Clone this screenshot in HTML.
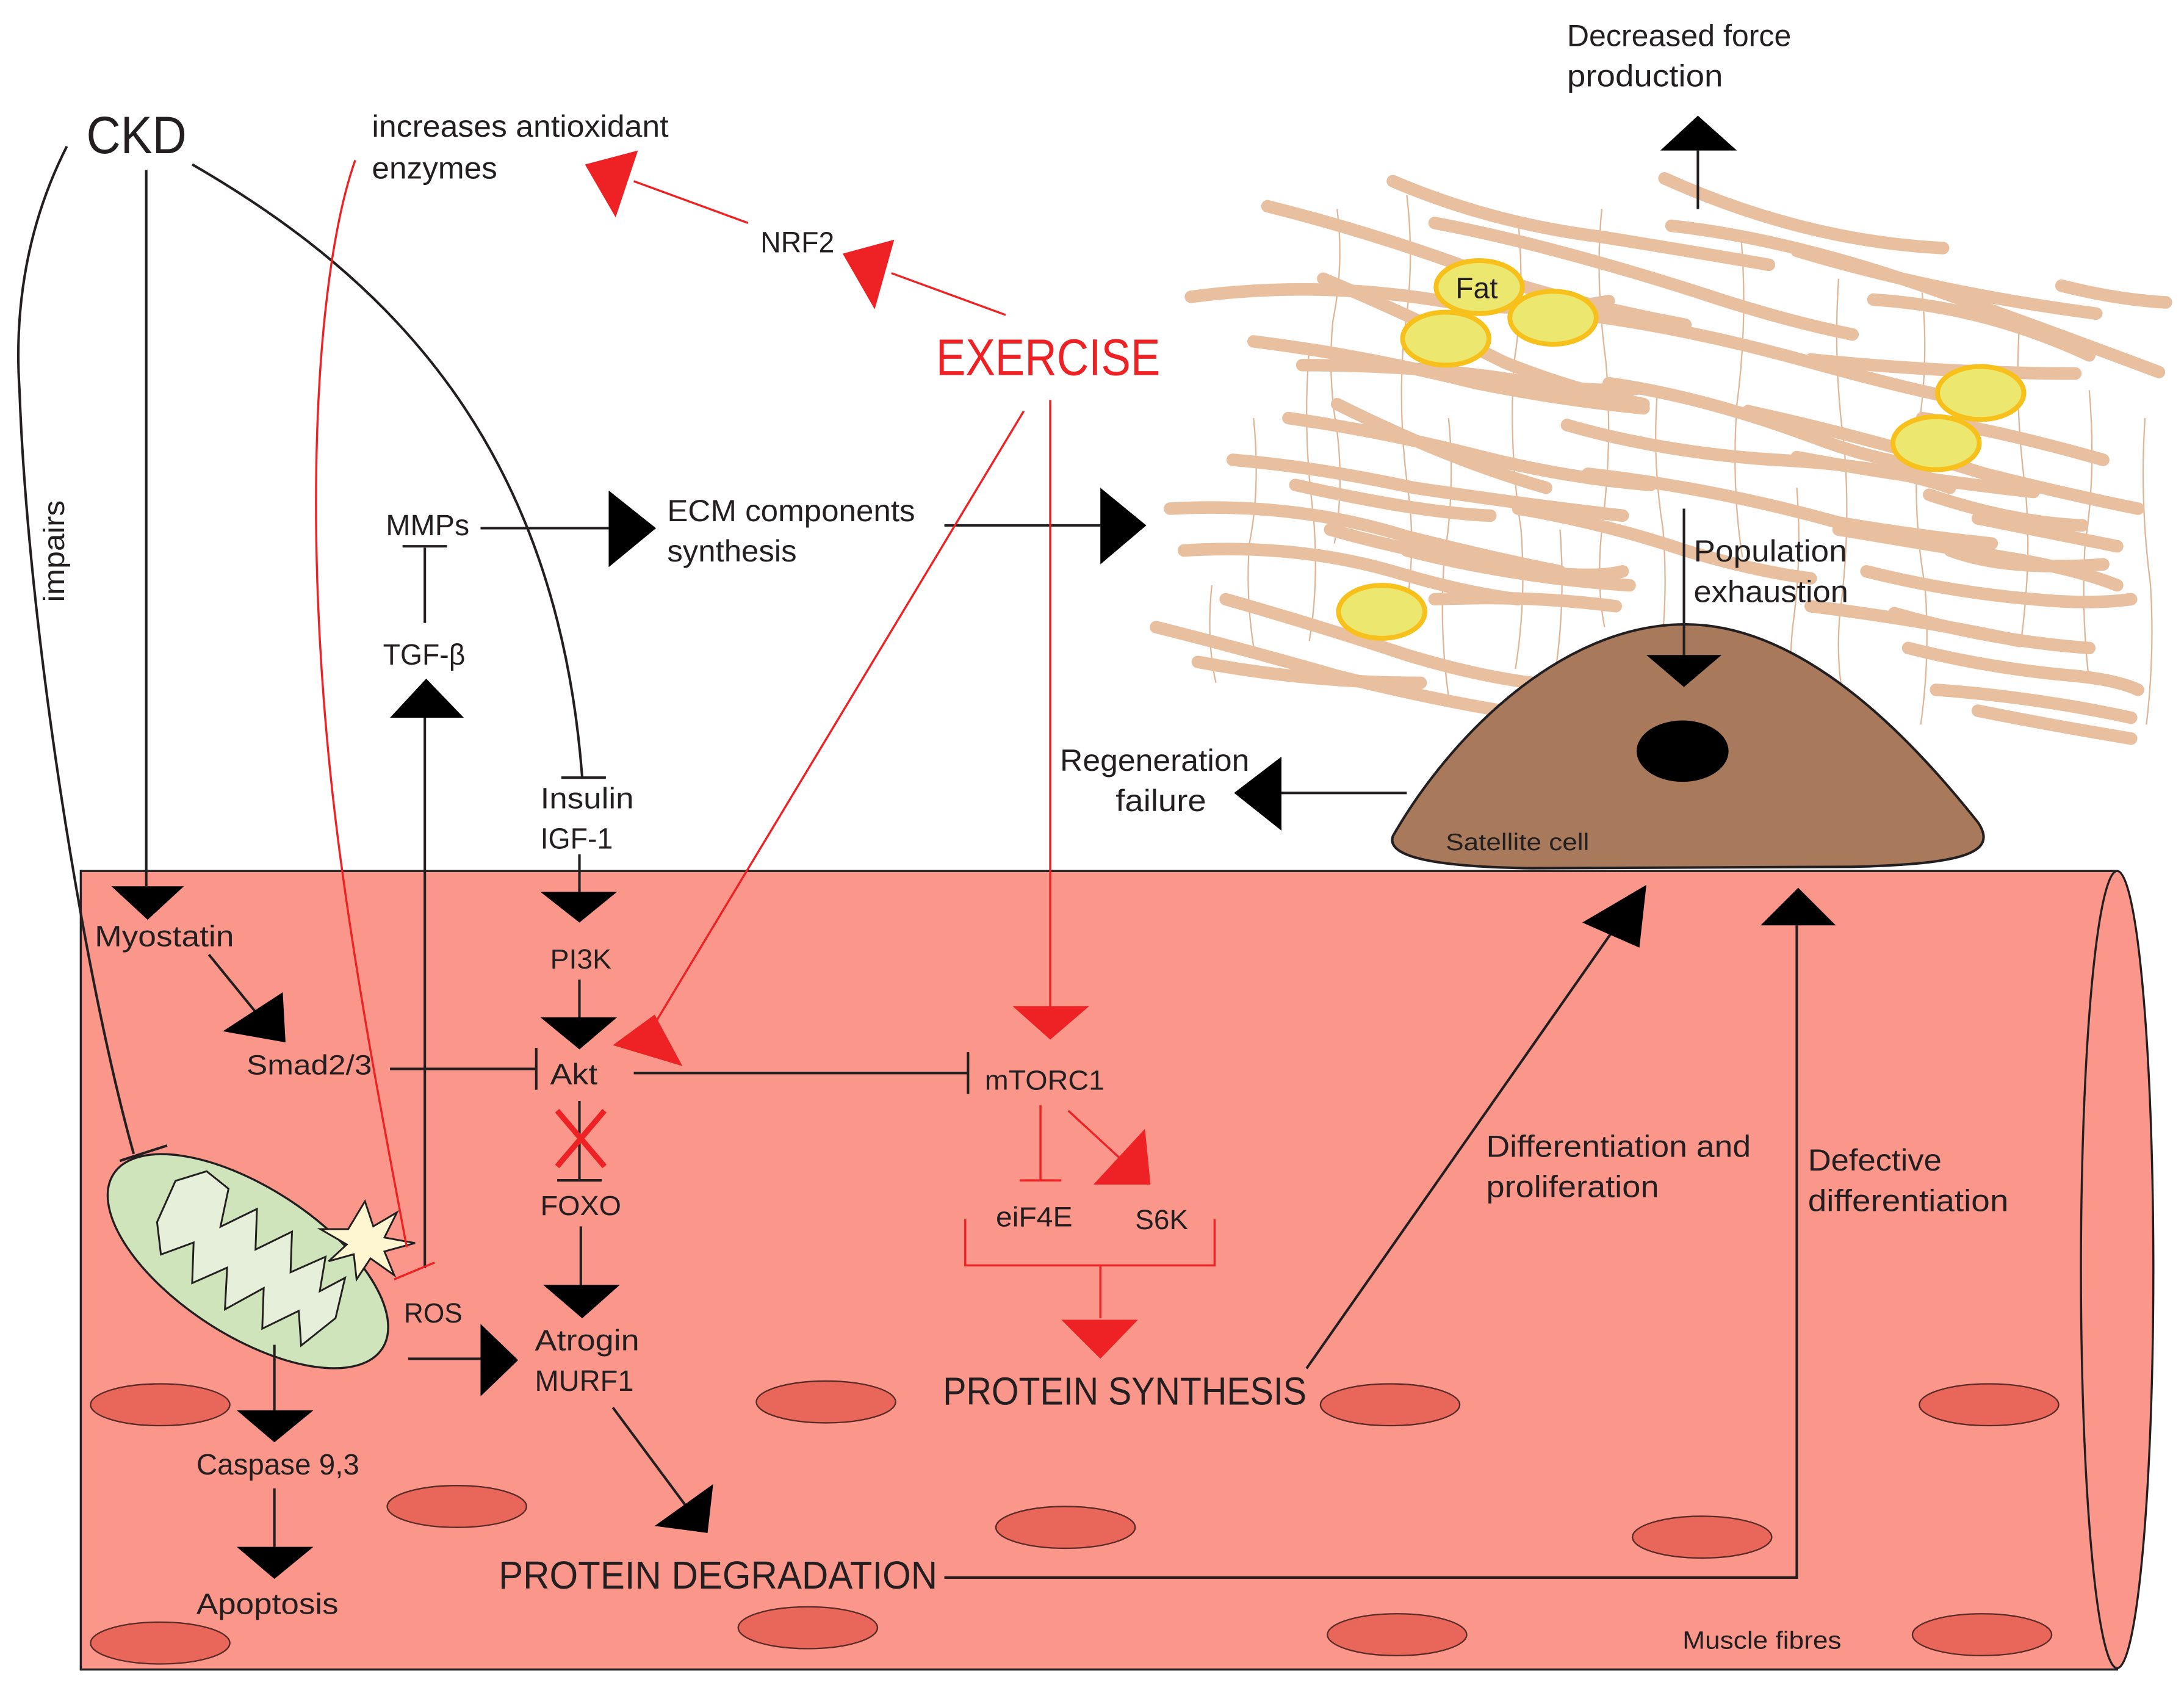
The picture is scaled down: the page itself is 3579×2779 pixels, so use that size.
<!DOCTYPE html>
<html><head><meta charset="utf-8"><style>
html,body{margin:0;padding:0;background:#fff}
svg{display:block}
text{font-family:"Liberation Sans",sans-serif;fill:#231f20}
</style></head><body>
<svg width="3579" height="2779" viewBox="0 0 1568 1217" preserveAspectRatio="none" xmlns="http://www.w3.org/2000/svg">
<rect x="58" y="625" width="1462" height="573" fill="#fa968a" stroke="#231f20" stroke-width="1.5"/>
<ellipse cx="1520" cy="911" rx="26" ry="286" fill="#fa968a" stroke="#231f20" stroke-width="1.5"/>
<g fill="#e8665a" stroke="#5a2a26" stroke-width="1">
<ellipse cx="115" cy="1008" rx="50" ry="15"/><ellipse cx="328" cy="1081" rx="50" ry="15"/>
<ellipse cx="593" cy="1006" rx="50" ry="15"/><ellipse cx="765" cy="1096" rx="50" ry="15"/>
<ellipse cx="998" cy="1008" rx="50" ry="15"/><ellipse cx="1222" cy="1103" rx="50" ry="15"/>
<ellipse cx="1428" cy="1008" rx="50" ry="15"/><ellipse cx="115" cy="1179" rx="50" ry="15"/>
<ellipse cx="580" cy="1168" rx="50" ry="15"/><ellipse cx="1003" cy="1173" rx="50" ry="15"/>
<ellipse cx="1423" cy="1173" rx="50" ry="15"/>
</g>
<g fill="none" stroke="#dcae8c" stroke-width="1" opacity="0.9">
<path d="M960 150 q5 40 -3 80 q-4 40 3 80 q5 40 -2 80"/><path d="M1010 140 q6 50 -2 100 q-5 60 4 120 q4 40 -3 80"/>
<path d="M1090 160 q5 50 -3 100 q-4 60 5 120 q4 50 -4 100"/><path d="M1150 150 q-5 50 3 110 q5 60 -3 120 q-4 40 2 70"/>
<path d="M1250 170 q5 60 -3 120 q-4 60 4 110"/><path d="M1320 200 q-4 60 4 120 q5 60 -3 120 q-3 30 2 60"/>
<path d="M1380 210 q5 50 -3 100 q-4 60 5 110 q4 50 -3 100"/><path d="M1450 230 q-4 60 4 120 q5 50 -3 110"/>
<path d="M1500 280 q5 60 -3 110 q-3 50 3 100"/><path d="M900 300 q5 50 -3 90 q-3 40 4 80"/>
<path d="M940 250 q-5 60 3 120 q4 50 -3 90"/><path d="M1040 300 q5 50 -3 100 q-4 50 3 100"/>
<path d="M1190 280 q-4 50 4 100 q4 50 -3 100"/><path d="M1290 350 q4 50 -3 100 q-4 40 3 80"/>
<path d="M870 420 q-4 40 3 70"/><path d="M1120 380 q4 50 -3 100"/><path d="M1540 300 q-4 60 4 120 q3 50 -3 100"/>
</g>
<g fill="none" stroke="#e8c0a0" stroke-width="9" stroke-linecap="round">
<path d="M910 148 q80 20 160 50 q60 20 140 35"/>
<path d="M1000 130 q70 30 150 40 q50 8 120 20"/>
<path d="M1030 160 q80 15 190 50 q60 20 110 30"/>
<path d="M1195 128 q100 45 200 50"/>
<path d="M1200 162 q90 10 200 50 q70 25 150 55"/>
<path d="M1290 180 q100 30 215 45"/>
<path d="M1345 215 q80 5 155 40"/>
<path d="M1480 205 q40 10 75 12"/>
<path d="M855 213 q90 -12 180 3 q70 10 120 0"/>
<path d="M950 200 q60 25 130 60 q50 20 100 30"/>
<path d="M1130 225 q80 10 170 35 q90 25 130 30"/>
<path d="M1300 258 q100 10 190 10"/>
<path d="M900 245 q80 10 160 30 q60 12 120 18"/>
<path d="M935 262 q90 0 160 12 q50 8 80 5"/>
<path d="M1155 275 q70 10 150 40 q40 15 80 20"/>
<path d="M1255 295 q90 20 170 45 q60 15 110 25"/>
<path d="M1380 300 q60 10 130 30"/>
<path d="M925 300 q70 10 140 28 q60 15 120 20"/>
<path d="M960 290 q80 40 150 60"/>
<path d="M1125 305 q70 20 150 25 q80 4 125 20"/>
<path d="M1290 328 q80 15 170 25"/>
<path d="M885 330 q60 5 130 20 q80 12 150 20"/>
<path d="M930 348 q90 20 140 22"/>
<path d="M1140 340 q90 10 180 35 q60 10 110 15"/>
<path d="M1385 355 q60 20 110 22"/>
<path d="M840 365 q90 -5 170 20 q60 15 110 25"/>
<path d="M955 380 q70 20 150 30 q40 5 60 0"/>
<path d="M1090 365 q60 10 120 30 q50 15 90 20"/>
<path d="M1320 380 q60 10 120 20 q50 8 80 20"/>
<path d="M1420 372 q50 10 100 20"/>
<path d="M850 395 q80 -5 150 15 q50 15 90 20"/>
<path d="M1010 395 q80 20 160 25"/>
<path d="M1340 410 q60 15 120 20 q40 4 70 0"/>
<path d="M1400 395 q40 15 110 10"/>
<path d="M880 430 q70 20 130 40 q50 15 90 20"/>
<path d="M1030 430 q70 -3 130 5"/>
<path d="M1360 440 q70 20 140 25"/>
<path d="M1300 435 q80 10 150 25"/>
<path d="M830 450 q60 15 130 35 q80 20 150 30"/>
<path d="M860 475 q80 15 160 15"/>
<path d="M1370 465 q60 15 120 20 q30 3 45 10"/>
<path d="M1390 495 q70 5 140 20"/>
<path d="M1420 510 q50 10 110 20"/>
</g>
<g fill="#ece86f" stroke="#f8c01b" stroke-width="3.5">
<ellipse cx="1062" cy="206" rx="31" ry="19"/><ellipse cx="1038" cy="243" rx="31" ry="19"/>
<ellipse cx="1115" cy="228" rx="31" ry="19"/><ellipse cx="1422" cy="282" rx="31" ry="19"/>
<ellipse cx="1390" cy="318" rx="31" ry="19"/><ellipse cx="992" cy="439" rx="31" ry="19"/>
</g>
<text x="1045" y="214" font-size="21">Fat</text>
<path d="M1000 600 C1040 530 1120 448 1210 448 C1300 448 1380 540 1420 590 C1435 612 1410 620 1330 622 L1100 623 C1030 622 995 615 1000 600 Z" fill="#a8795a" stroke="#231f20" stroke-width="1.8"/>
<ellipse cx="1208" cy="539" rx="33" ry="22" fill="#000"/>
<text x="1038" y="610" font-size="17" textLength="103" lengthAdjust="spacingAndGlyphs">Satellite cell</text>
<g transform="translate(178,905) rotate(33)">
<ellipse cx="0" cy="0" rx="115" ry="53" fill="#cfe4bb" stroke="#231f20" stroke-width="1.5"/>
<path d="M-75 -20 L-60 -38 L-40 -36 L-30 -10 L-15 -35 L0 -10 L15 -35 L30 -10 L45 -33 L55 -10 L65 -28 L75 0 L65 30 L50 10 L35 35 L20 10 L5 38 L-10 12 L-25 35 L-40 10 L-55 30 L-70 12 Z" fill="#e6efd9" stroke="#231f20" stroke-width="1.3"/>
</g>
<path d="M262 862 L268 880 L285 870 L276 888 L298 892 L276 898 L283 915 L266 903 L256 918 L254 900 L236 905 L249 893 L230 882 L250 882 Z" fill="#fdf6d0" stroke="#231f20" stroke-width="1.3"/>
<g stroke="#231f20" stroke-width="1.8" fill="none">
<line x1="105" y1="122" x2="105" y2="636"/>
<path d="M138 118 C280 200 400 320 418 558"/>
<line x1="403" y1="558" x2="435" y2="558"/>
<path d="M48 105 C20 160 10 220 14 280 C20 450 60 700 96 828"/>
<line x1="86" y1="833" x2="120" y2="822"/>
<line x1="345" y1="379" x2="437" y2="379"/>
<line x1="678" y1="377" x2="790" y2="377"/>
<line x1="305" y1="393" x2="305" y2="447"/><line x1="289" y1="392" x2="321" y2="392"/>
<line x1="305" y1="910" x2="305" y2="515"/>
<line x1="416" y1="613" x2="416" y2="641"/>
<line x1="416" y1="703" x2="416" y2="731"/>
<line x1="416" y1="790" x2="416" y2="847"/><line x1="400" y1="847" x2="432" y2="847"/>
<line x1="417" y1="880" x2="417" y2="923"/>
<line x1="280" y1="767" x2="385" y2="767"/><line x1="385" y1="752" x2="385" y2="782"/>
<line x1="455" y1="770" x2="695" y2="770"/><line x1="695" y1="755" x2="695" y2="785"/>
<line x1="150" y1="685" x2="185" y2="728"/>
<line x1="293" y1="975" x2="345" y2="975"/>
<line x1="440" y1="1010" x2="492" y2="1080"/>
<line x1="197" y1="965" x2="197" y2="1012"/>
<line x1="197" y1="1068" x2="197" y2="1110"/>
<polyline points="678,1132 1290,1132 1290,664"/>
<line x1="938" y1="982" x2="1160" y2="665"/>
<line x1="1219" y1="150" x2="1219" y2="108"/>
<line x1="1209" y1="365" x2="1209" y2="470"/>
<line x1="1010" y1="569" x2="920" y2="569"/>
</g>
<g fill="#000">
<polygon points="80,636 132,636 106,660"/>
<polygon points="437,352 437,407 471,379"/>
<polygon points="790,350 790,405 823,377"/>
<polygon points="280,515 333,515 306,487"/>
<polygon points="388,640 443,640 416,662"/>
<polygon points="388,730 443,730 416,753"/>
<polygon points="390,922 445,922 418,946"/>
<polygon points="160,740 203,712 205,748"/>
<polygon points="345,950 345,1002 372,976"/>
<polygon points="470,1095 512,1065 508,1100"/>
<polygon points="170,1012 225,1012 197,1035"/>
<polygon points="170,1110 225,1110 197,1133"/>
<polygon points="1264,664 1318,664 1291,637"/>
<polygon points="1136,662 1182,635 1177,680"/>
<polygon points="1192,108 1247,108 1219,83"/>
<polygon points="1182,470 1236,470 1209,493"/>
<polygon points="920,543 920,596 886,569"/>
</g>
<g stroke="#ee2224" stroke-width="1.5" fill="none">
<path d="M255 115 C225 200 215 400 245 620 C260 730 280 830 292 895"/>
<line x1="283" y1="918" x2="312" y2="906"/>
<line x1="722" y1="226" x2="640" y2="196"/>
<line x1="537" y1="160" x2="455" y2="130"/>
<line x1="735" y1="295" x2="468" y2="738"/>
<line x1="754" y1="287" x2="754" y2="722"/>
<line x1="747" y1="793" x2="747" y2="847"/><line x1="732" y1="847" x2="762" y2="847"/>
<line x1="767" y1="797" x2="805" y2="832"/>
<polyline points="693,875 693,908 872,908 872,875"/>
<line x1="790" y1="908" x2="790" y2="946"/>
<line x1="400" y1="797" x2="434" y2="837" stroke-width="4"/><line x1="434" y1="797" x2="400" y2="837" stroke-width="4"/>
</g>
<g fill="#ee2224">
<polygon points="605,182 642,172 628,222"/>
<polygon points="420,118 458,108 442,156"/>
<polygon points="440,750 490,765 470,728"/>
<polygon points="727,722 782,722 754,746"/>
<polygon points="785,850 826,850 822,810"/>
<polygon points="762,947 817,947 790,975"/>
</g>
<text x="62" y="110" font-size="38" textLength="72" lengthAdjust="spacingAndGlyphs">CKD</text>
<text x="267" y="98" font-size="22" textLength="213" lengthAdjust="spacingAndGlyphs">increases antioxidant</text>
<text x="267" y="128" font-size="22" textLength="90" lengthAdjust="spacingAndGlyphs">enzymes</text>
<text x="546" y="181" font-size="21" textLength="53" lengthAdjust="spacingAndGlyphs">NRF2</text>
<text x="672" y="269" font-size="37" textLength="161" lengthAdjust="spacingAndGlyphs" style="fill:#ee2224">EXERCISE</text>
<text x="1125" y="33" font-size="22" textLength="161" lengthAdjust="spacingAndGlyphs">Decreased force</text>
<text x="1125" y="62" font-size="22" textLength="112" lengthAdjust="spacingAndGlyphs">production</text>
<text x="277" y="384" font-size="21" textLength="60" lengthAdjust="spacingAndGlyphs">MMPs</text>
<text x="479" y="374" font-size="22" textLength="178" lengthAdjust="spacingAndGlyphs">ECM components</text>
<text x="479" y="403" font-size="22" textLength="93" lengthAdjust="spacingAndGlyphs">synthesis</text>
<text x="275" y="477" font-size="21" textLength="59" lengthAdjust="spacingAndGlyphs">TGF-β</text>
<text transform="translate(46,432) rotate(-90)" font-size="21" textLength="73" lengthAdjust="spacingAndGlyphs">impairs</text>
<text x="1216" y="403" font-size="22" textLength="110" lengthAdjust="spacingAndGlyphs">Population</text>
<text x="1216" y="432" font-size="22" textLength="111" lengthAdjust="spacingAndGlyphs">exhaustion</text>
<text x="761" y="553" font-size="22" textLength="136" lengthAdjust="spacingAndGlyphs">Regeneration</text>
<text x="801" y="582" font-size="22" textLength="65" lengthAdjust="spacingAndGlyphs">failure</text>
<text x="388" y="580" font-size="21" textLength="67" lengthAdjust="spacingAndGlyphs">Insulin</text>
<text x="388" y="609" font-size="21" textLength="52" lengthAdjust="spacingAndGlyphs">IGF-1</text>
<text x="68" y="679" font-size="21" textLength="100" lengthAdjust="spacingAndGlyphs">Myostatin</text>
<text x="395" y="695" font-size="20" textLength="44" lengthAdjust="spacingAndGlyphs">PI3K</text>
<text x="177" y="771" font-size="20" textLength="90" lengthAdjust="spacingAndGlyphs">Smad2/3</text>
<text x="395" y="778" font-size="21" textLength="34" lengthAdjust="spacingAndGlyphs">Akt</text>
<text x="707" y="782" font-size="20" textLength="86" lengthAdjust="spacingAndGlyphs">mTORC1</text>
<text x="388" y="872" font-size="20" textLength="58" lengthAdjust="spacingAndGlyphs">FOXO</text>
<text x="715" y="880" font-size="20" textLength="55" lengthAdjust="spacingAndGlyphs">eiF4E</text>
<text x="815" y="882" font-size="20" textLength="38" lengthAdjust="spacingAndGlyphs">S6K</text>
<text x="290" y="949" font-size="20" textLength="42" lengthAdjust="spacingAndGlyphs">ROS</text>
<text x="384" y="969" font-size="21" textLength="75" lengthAdjust="spacingAndGlyphs">Atrogin</text>
<text x="384" y="998" font-size="21" textLength="71" lengthAdjust="spacingAndGlyphs">MURF1</text>
<text x="677" y="1008" font-size="28" textLength="261" lengthAdjust="spacingAndGlyphs">PROTEIN SYNTHESIS</text>
<text x="1067" y="830" font-size="22" textLength="190" lengthAdjust="spacingAndGlyphs">Differentiation and</text>
<text x="1067" y="859" font-size="22" textLength="124" lengthAdjust="spacingAndGlyphs">proliferation</text>
<text x="1298" y="840" font-size="22" textLength="96" lengthAdjust="spacingAndGlyphs">Defective</text>
<text x="1298" y="869" font-size="22" textLength="144" lengthAdjust="spacingAndGlyphs">differentiation</text>
<text x="141" y="1058" font-size="21" textLength="117" lengthAdjust="spacingAndGlyphs">Caspase 9,3</text>
<text x="141" y="1158" font-size="21" textLength="102" lengthAdjust="spacingAndGlyphs">Apoptosis</text>
<text x="358" y="1140" font-size="28" textLength="315" lengthAdjust="spacingAndGlyphs">PROTEIN DEGRADATION</text>
<text x="1208" y="1183" font-size="18" textLength="114" lengthAdjust="spacingAndGlyphs">Muscle fibres</text>
</svg>
</body></html>
